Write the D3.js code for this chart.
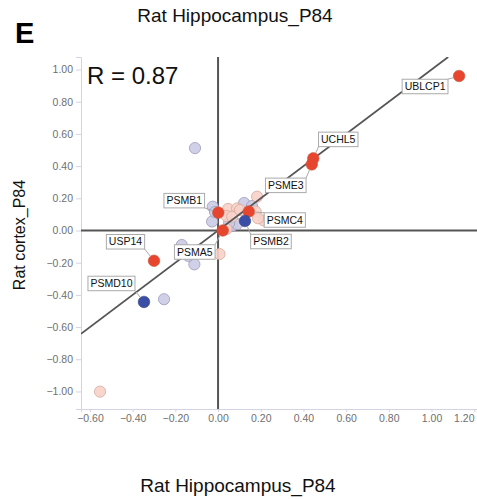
<!DOCTYPE html>
<html>
<head>
<meta charset="utf-8">
<script src="https://cdn.jsdelivr.net/npm/d3@7/dist/d3.min.js"></script>
<style>
  html, body { margin: 0; padding: 0; background: #fff; }
  svg { display: block; font-family: "Liberation Sans", Arial, Helvetica, sans-serif; }
</style>
</head>
<body>
<svg id="chart" width="477" height="499"></svg>
<script>
// Fold changes: hippocampus (x) vs cortex (y), rat P84
const sigGenes = ["UBLCP1", "UCHL5", "PSME3", "PSMC4", "PSMB1", "PSMA5", "USP14", "PSMB2", "PSMD10"];
const sigX     = [1.129, 0.446, 0.439, 0.144, 0.001, 0.022, -0.300, 0.126, -0.347];
const sigY     = [0.960, 0.448, 0.411, 0.118, 0.111, 0.000, -0.188, 0.059, -0.444];
const sigDir   = ["up", "up", "up", "up", "up", "up", "up", "down", "down"];

// non-significant proteins
const downX = [-0.108, -0.253, -0.170, -0.111, -0.139, -0.025, -0.028, 0.122, 0.159, 0.066, 0.089, 0.052, -0.014];
const downY = [0.512, -0.427, -0.090, -0.210, -0.158, 0.148, 0.056, 0.171, 0.152, 0.028, 0.040, 0.047, 0.115];
const upX   = [-0.553, 0.007, 0.047, 0.089, 0.183, 0.215, 0.176, 0.040, 0.040, 0.066, 0.103, 0.187];
const upY   = [-1.001, -0.146, 0.134, 0.137, 0.210, 0.062, 0.118, 0.090, 0.009, 0.086, 0.127, 0.076];

const xTicks = [-0.6, -0.4, -0.2, 0.0, 0.2, 0.4, 0.6, 0.8, 1.0, 1.2];
const yTicks = [-1.0, -0.8, -0.6, -0.4, -0.2, 0.0, 0.2, 0.4, 0.6, 0.8, 1.0];

const regSlope = 1.0;
const regIntercept = 0.0;
const rLabel = "R = 0.87";

// callout placement (pixel offset of box centre from its point)
const calloutOffset = {
  UBLCP1: [-34, 10.5], UCHL5: [25, -19], PSME3: [-26, 21], PSMC4: [36, 8.5],
  PSMB1: [-34, -12], PSMA5: [-28, 21.5], USP14: [-28.5, -19], PSMB2: [26, 20.5],
  PSMD10: [-32.5, -18.5]
};

const svg = d3.select("#chart");
const x = d3.scaleLinear().domain([-0.642, 1.213]).range([81, 477]);
const y = d3.scaleLinear().domain([-1.109, 1.078]).range([409, 57]);
const fmt = d3.format(".2f");

// titles
svg.append("text").attr("x", 15).attr("y", 43)
  .attr("font-size", 29).attr("font-weight", "bold").attr("fill", "#000").text("E");
svg.append("text").attr("x", 235).attr("y", 22).attr("text-anchor", "middle")
  .attr("font-size", 19).attr("fill", "#111").text("Rat Hippocampus_P84");
svg.append("text").attr("x", 238).attr("y", 492).attr("text-anchor", "middle")
  .attr("font-size", 19).attr("fill", "#111").text("Rat Hippocampus_P84");
svg.append("text").attr("transform", "translate(25,235) rotate(-90)")
  .attr("text-anchor", "middle").attr("font-size", 16).attr("fill", "#111").text("Rat cortex_P84");

// axes
const yAxis = svg.append("g").attr("transform", "translate(81,0)")
  .call(d3.axisLeft(y).tickValues(yTicks).tickFormat(fmt).tickSize(5).tickPadding(3));
const xAxis = svg.append("g").attr("transform", "translate(0,409)")
  .call(d3.axisBottom(x).tickValues(xTicks).tickFormat(fmt).tickSize(3).tickPadding(3));
[yAxis, xAxis].forEach(g => {
  g.select(".domain").attr("stroke", "#d3d3e3");
  g.selectAll(".tick line").attr("stroke", "#d3d3e3");
  g.selectAll(".tick text").attr("fill", "#707070").attr("font-size", 10.5)
    .attr("font-family", "\"Liberation Sans\", Arial, sans-serif");
});
xAxis.selectAll(".tick text").filter(d => d === 1.2)
  .attr("text-anchor", "end").attr("x", 474 - x(1.2));

// R value
svg.append("text").attr("x", 87).attr("y", 84).attr("font-size", 24).attr("fill", "#111").text(rLabel);

const clip = svg.append("clipPath").attr("id", "plotClip")
  .append("rect").attr("x", 81).attr("y", 57).attr("width", 396).attr("height", 352);

// zero lines
const zero = svg.append("g").attr("stroke", "#555").attr("stroke-width", 2);
zero.append("line").attr("x1", 81).attr("x2", 477).attr("y1", y(0)).attr("y2", y(0));
zero.append("line").attr("x1", x(0)).attr("x2", x(0)).attr("y1", 57).attr("y2", 409);

// points
const nsPts = downX.map((v, i) => ({ x: v, y: downY[i], t: "down" }))
  .concat(upX.map((v, i) => ({ x: v, y: upY[i], t: "up" })));
const sigPts = sigGenes.map((g, i) => ({ name: g, x: sigX[i], y: sigY[i], t: sigDir[i] }));

const fillNs = { down: "#cbcbe5", up: "#f7d2c8" };
const strokeNs = { down: "#9a9abb", up: "#d6a89c" };
svg.append("g").selectAll("circle").data(nsPts).join("circle")
  .attr("cx", d => x(d.x)).attr("cy", d => y(d.y)).attr("r", 5.6)
  .attr("fill", d => fillNs[d.t]).attr("fill-opacity", 0.9)
  .attr("stroke", d => strokeNs[d.t]).attr("stroke-width", 0.8);

// regression line
const x0 = -0.642, x1 = (1.078 - regIntercept) / regSlope;
svg.append("line").attr("clip-path", "url(#plotClip)")
  .attr("x1", x(x0)).attr("y1", y(regSlope * x0 + regIntercept))
  .attr("x2", x(x1)).attr("y2", y(regSlope * x1 + regIntercept))
  .attr("stroke", "#555").attr("stroke-width", 1.8);

const fillSig = { up: "#e8452f", down: "#3a4ea6" };
const strokeSig = { up: "#c8553f", down: "#34428a" };
svg.append("g").selectAll("circle").data(sigPts).join("circle")
  .attr("cx", d => x(d.x)).attr("cy", d => y(d.y)).attr("r", 5.8)
  .attr("fill", d => fillSig[d.t]).attr("stroke", d => strokeSig[d.t]).attr("stroke-width", 0.6);

// callouts
const callouts = svg.append("g");
sigPts.forEach(d => {
  const px = x(d.x), py = y(d.y);
  const [dx, dy] = calloutOffset[d.name];
  const cx = px + dx, cy = py + dy;
  const g = callouts.append("g");
  const txt = g.append("text").attr("x", cx).attr("y", cy + 3.7)
    .attr("text-anchor", "middle").attr("font-size", 10.5).attr("fill", "#111").text(d.name);
  const w = txt.node().getComputedTextLength() + 5, h = 14.5;
  const bx = cx - w / 2, by = cy - h / 2;
  // connector to nearest box edge
  const ex = Math.max(bx, Math.min(px, bx + w)), ey = Math.max(by, Math.min(py, by + h));
  const len = Math.hypot(ex - px, ey - py) || 1;
  g.insert("line", "text")
    .attr("x1", px + (ex - px) / len * 5.8).attr("y1", py + (ey - py) / len * 5.8)
    .attr("x2", ex).attr("y2", ey).attr("stroke", "#aaa").attr("stroke-width", 1);
  g.insert("rect", "text").attr("x", bx).attr("y", by).attr("width", w).attr("height", h)
    .attr("fill", "#fff").attr("stroke", "#aaa").attr("stroke-width", 1);
});
</script>
</body>
</html>
